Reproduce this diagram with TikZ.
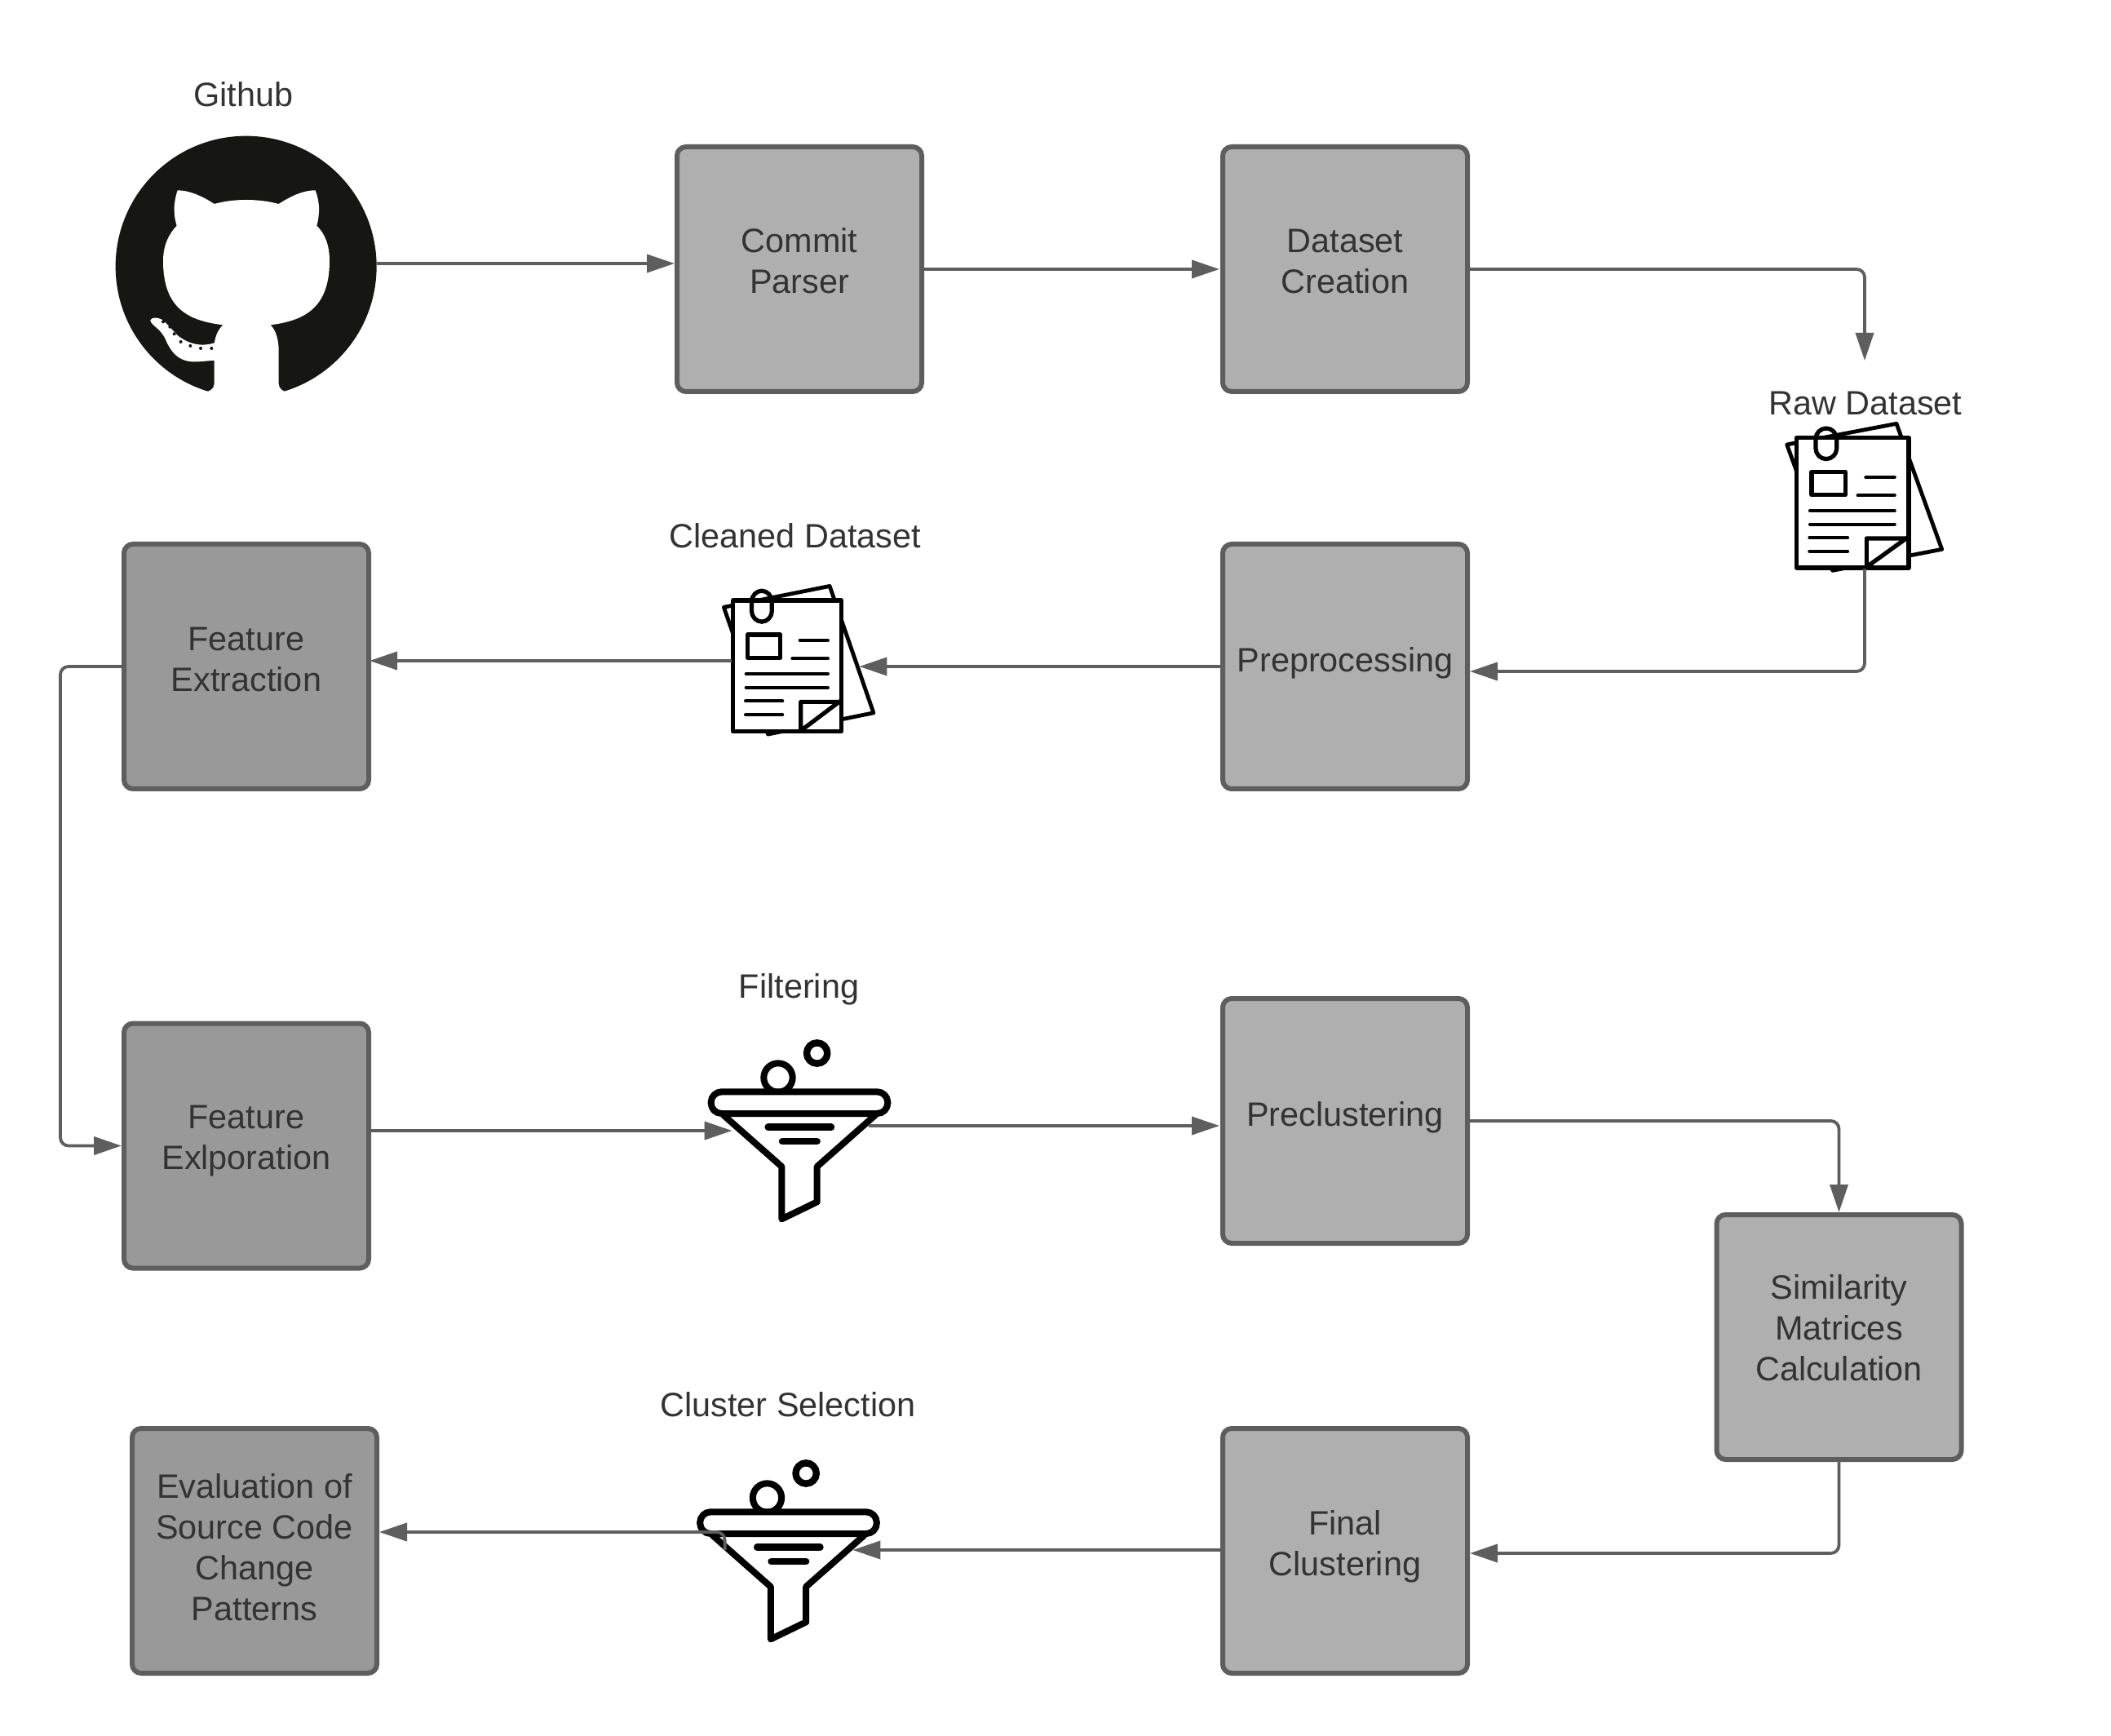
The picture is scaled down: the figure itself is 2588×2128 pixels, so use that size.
\documentclass[tikz,border=0pt]{standalone}
\usepackage{fontspec}
\setmainfont{Liberation Sans}
\usetikzlibrary{arrows.meta,calc}
\definecolor{lineg}{HTML}{5E5E5E}
\definecolor{boxl}{HTML}{AFAFAF}
\definecolor{boxd}{HTML}{999999}
\definecolor{txt}{HTML}{333333}
\definecolor{ink}{HTML}{161713}
\newcommand\boxtxt[2]{\raisebox{-#1pt}[0pt][0pt]{\begin{tabular}{@{}c@{}}#2\end{tabular}}}
\newcommand\docicon[4]{%
  \begin{scope}[shift={(#1,#2)},xscale=#3,yscale=#4,line join=round]
    \draw[black,line width=2.4pt] (122,255)--(525,178)--(692,640)--(290,718)--cycle;
    \filldraw[fill=white,draw=black,line width=2.6pt] (157,230) rectangle (570,708);
    \draw[black,line width=2.6pt,rounded corners=6.5pt] (228,308) rectangle (305,195);
    \draw[black,line width=2.6pt] (213,355) rectangle (337,440);
    \draw[black,line width=2.1pt,line cap=round]
      (412,375)--(518,375) (383,442)--(518,442) (207,498)--(518,498)
      (207,548)--(518,548) (205,597)--(345,597) (205,647)--(345,647);
    \draw[black,line width=2.6pt] (415,705)--(415,600)--(568,600) (415,705)--(565,597);
  \end{scope}}
\newcommand\funnelicon[2]{%
  \begin{scope}[shift={(#1,#2)},scale=0.33333,line join=round]
    \draw[black,line width=4pt] (342,183) circle[radius=53];
    \draw[black,line width=4.2pt] (485,93) circle[radius=38];
    \filldraw[fill=white,draw=black,line width=4pt,rounded corners=6.5pt] (95,235) rectangle (745,315);
    \draw[black,line width=4pt] (140,320)--(355,510)--(355,703)--(485,640)--(485,510)--(700,320);
    \draw[black,line width=4.2pt,line cap=round] (305,365)--(537,365) (357,417)--(485,417);
  \end{scope}}
\tikzset{
  every node/.style={font=\fontsize{20.7}{25}\selectfont,text=txt,inner sep=0pt},
  stepbox/.style={draw=lineg,line width=3pt,rounded corners=5.5pt,minimum width=150pt,minimum height=150pt,align=center},
  light/.style={stepbox,fill=boxl},
  dark/.style={stepbox,fill=boxd},
  icon/.style={draw=none,fill=none},
  caption/.style={anchor=base},
  flow/.style={draw=lineg,line width=1.9pt,rounded corners=5pt},
  flowa/.style={flow,-{Triangle[length=17pt,width=11pt]}}
}
\begin{document}
\begin{tikzpicture}[x=0.5pt,y=-0.5pt]
\useasboundingbox (0,0) rectangle (2588,2128);
\fill[white] (0,0) rectangle (2588,2128);

% boxes
\node[light] (commit) at (980,330) {\boxtxt{2.5}{Commit\\Parser}};
\node[light] (dataset) at (1649,330) {\boxtxt{2.5}{Dataset\\Creation}};
\node[light] (preproc) at (1649,817) {\boxtxt{3.5}{Preprocessing}};
\node[dark] (fextract) at (302,817) {\boxtxt{3.0}{Feature\\Extraction}};
\node[dark] (fexplore) at (302,1404.5) {\boxtxt{2.3}{Feature\\Exlporation}};
\node[light] (preclust) at (1649,1374) {\boxtxt{3.5}{Preclustering}};
\node[light] (simil) at (2254.5,1639) {\boxtxt{2}{Similarity\\Matrices\\Calculation}};
\node[light] (final) at (1649,1901) {\boxtxt{2.9}{Final\\Clustering}};
\node[dark] (evalbox) at (312,1901) {\boxtxt{5.5}{Evaluation of\\Source Code\\Change\\Patterns}};

% captions
\node[caption] (capgit) at (298.5,131) {Github};
\node[caption] (capraw) at (2287,509) {Raw Dataset};
\node[caption] (capclean) at (975,672) {Cleaned Dataset};
\node[caption] (capfilter) at (979.5,1223) {Filtering};
\node[caption] (capcluster) at (966,1736) {Cluster Selection};

% icon anchors
\node[icon,minimum width=160pt,minimum height=160pt] (github) at (302,323) {};
\node[icon,minimum width=70pt,minimum height=80pt] (rawdoc) at (2272,617) {};
\node[icon,minimum width=78pt,minimum height=82pt] (cleaned) at (975,810) {};
\node[icon,minimum width=83.5pt,minimum height=100pt] (filter) at (981.5,1386) {};
\node[icon,minimum width=78pt,minimum height=100pt] (cluster) at (967,1900) {};
\coordinate (rawin) at (2286,442);
\coordinate (bus) at (74,817);

% github mark
\begin{scope}[shift={(120,70)},scale=0.33333,line join=round]
  \fill[ink] (545,770) circle[radius=480];
  \fill[white] (428,1200) .. controls (428,1218) and (415,1228) .. (395,1232)
    -- (395,1290) -- (700,1290) -- (695,1232) .. controls (678,1228) and (665,1218) .. (665,1200)
    -- (665,1080) .. controls (665,1040) and (655,1005) .. (635,985)
    .. controls (750,970) and (852,930) .. (852,750)
    .. controls (852,690) and (835,650) .. (805,620)
    .. controls (818,570) and (815,530) .. (800,490)
    .. controls (750,490) and (705,515) .. (665,540)
    .. controls (590,520) and (500,520) .. (428,540)
    .. controls (390,515) and (340,490) .. (293,490)
    .. controls (280,530) and (275,570) .. (290,620)
    .. controls (262,650) and (240,690) .. (240,750)
    .. controls (240,930) and (340,970) .. (460,985)
    .. controls (440,1005) and (430,1030) .. (428,1060) -- cycle;
  \fill[white] (432,1050) .. controls (390,1065) and (340,1060) .. (295,1025)
    .. controls (270,1000) and (250,975) .. (235,965)
    .. controls (220,957) and (198,955) .. (193,968)
    .. controls (195,985) and (225,995) .. (245,1030)
    .. controls (270,1090) and (300,1125) .. (370,1120) -- (432,1115) -- cycle;
  \foreach \px/\py in {240/973,265/992,281/1018,305/1047,340/1062,378/1071,418/1071}
    \fill[ink] (\px,\py) circle[radius=6];
\end{scope}

% icons
\docicon{2150}{460}{0.33333}{0.33333}
\docicon{848.1}{658.6}{0.322}{0.3363}
\funnelicon{840}{1260}
\funnelicon{826.5}{1775}

% connectors
\draw[flowa] (github.east) -- (github.east -| commit.west);
\draw[flowa,shorten >=0.5pt] (commit.east) -- (dataset.west);
\draw[flowa] (dataset.east) -| (rawin);
\draw[flowa] ([xshift=7pt]rawdoc.south) |- ([yshift=-3pt]preproc.east);
\draw[flowa] (preproc.west) -- (cleaned.east |- preproc.west);
\draw[flowa,shorten >=-1pt] (cleaned.west) -- (cleaned.west -| fextract.east);
\draw[flowa] (fextract.west) -- (bus) -- (bus |- fexplore.west) -- (fexplore.west);
\draw[flowa] (filter.west -| fexplore.east) -- (filter.west);
\draw[flowa,shorten >=0.5pt] ([yshift=3pt]filter.east) -- ([yshift=3pt]filter.east -| preclust.west);
\draw[flowa] (preclust.east) -| (simil.north);
\draw[flowa] (simil.south) |- ([yshift=-1.5pt]final.east);
\draw[flowa] (cluster.east -| final.west) -- (cluster.east);
\draw[flowa] (cluster.west) -- ([yshift=11pt]cluster.west) -- ([yshift=11pt]cluster.west -| evalbox.east);
\end{tikzpicture}
\end{document}
